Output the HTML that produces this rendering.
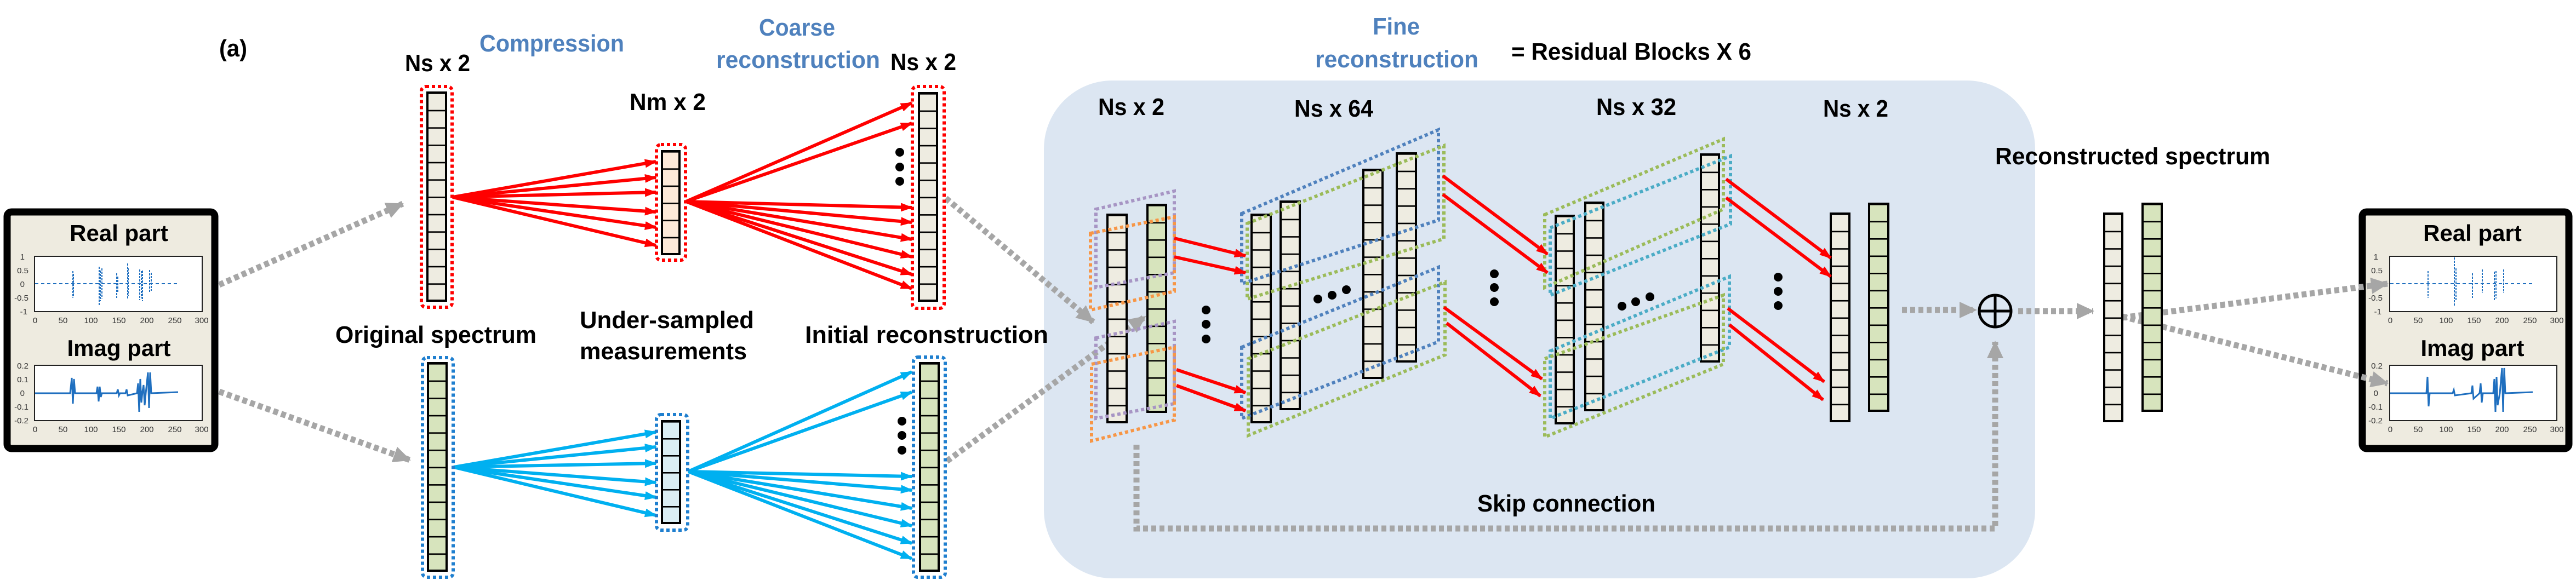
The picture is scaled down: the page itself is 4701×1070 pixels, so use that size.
<!DOCTYPE html>
<html><head><meta charset="utf-8"><style>
html,body{margin:0;padding:0;background:#fff;}
svg{display:block}
.t{font-family:"Liberation Sans Narrow","Liberation Sans",sans-serif;font-size:44px;fill:#000;font-weight:bold}
.b{fill:#4f81bd}
.ax{font-family:"Liberation Sans",sans-serif;font-size:15px;fill:#333}
.bt{font-family:"Liberation Sans",sans-serif;font-weight:bold;font-size:42px;fill:#000}
</style></head><body>
<svg width="4701" height="1070" viewBox="0 0 4701 1070" xmlns="http://www.w3.org/2000/svg">
<defs>
<pattern id="pb" patternUnits="objectBoundingBox" width="1" height="0.08333" patternContentUnits="objectBoundingBox"><rect width="1" height="0.08333" fill="#eeece1"/><rect width="1" height="0.007" fill="#000"/></pattern>
<pattern id="pg" patternUnits="objectBoundingBox" width="1" height="0.08333" patternContentUnits="objectBoundingBox"><rect width="1" height="0.08333" fill="#d7e4bd"/><rect width="1" height="0.007" fill="#000"/></pattern>
<pattern id="pp" patternUnits="objectBoundingBox" width="1" height="0.16667" patternContentUnits="objectBoundingBox"><rect width="1" height="0.16667" fill="#fde9d9"/><rect width="1" height="0.014" fill="#000"/></pattern>
<pattern id="pc" patternUnits="objectBoundingBox" width="1" height="0.16667" patternContentUnits="objectBoundingBox"><rect width="1" height="0.16667" fill="#dbeef4"/><rect width="1" height="0.014" fill="#000"/></pattern>
<marker id="mr" markerUnits="userSpaceOnUse" markerWidth="22" markerHeight="16" refX="20" refY="8" orient="auto"><path d="M0,0 L22,8 L0,16 z" fill="#ff0000"/></marker>
<marker id="mb" markerUnits="userSpaceOnUse" markerWidth="22" markerHeight="16" refX="20" refY="8" orient="auto"><path d="M0,0 L22,8 L0,16 z" fill="#00b0f0"/></marker>
<marker id="mg" markerUnits="userSpaceOnUse" markerWidth="32" markerHeight="30" refX="30" refY="15" orient="auto"><path d="M0,0 L32,15 L0,30 z" fill="#a6a6a6"/></marker>
</defs>

<rect x="1905" y="147" width="1809" height="909" rx="125" ry="125" fill="#dce6f2"/>

<g>
<rect x="13" y="387" width="379" height="432" rx="8" fill="#eeebe0" stroke="#000" stroke-width="13"/>
<text x="217" y="440" text-anchor="middle" class="bt">Real part</text>
<rect x="63" y="468" width="306" height="101" fill="#fff" stroke="#222" stroke-width="2"/>
<g class="ax" text-anchor="end"><text x="45" y="474">1</text><text x="52" y="499">0.5</text><text x="45" y="524">0</text><text x="52" y="549">-0.5</text><text x="50" y="574">-1</text></g>
<g class="ax" text-anchor="middle"><text x="64" y="590">0</text><text x="115" y="590">50</text><text x="166" y="590">100</text><text x="217" y="590">150</text><text x="268" y="590">200</text><text x="319" y="590">250</text><text x="368" y="590">300</text></g>
<path d="M64,518 H325" stroke="#1f6fbf" stroke-width="2" stroke-dasharray="6 5"/>
<path d="M133,495 V544 M134,500 V540 M181,487 V558 M183,494 V550 M186,490 V545 M213,499 V544 M215,505 V535 M233,481 V547 M234,490 V540 M255,492 V548 M258,495 V545 M260,494 V550 M273,493 V535 M276,498 V531" stroke="#1f6fbf" stroke-width="2" stroke-dasharray="4 2"/>
<text x="217" y="650" text-anchor="middle" class="bt">Imag part</text>
<rect x="63" y="667" width="306" height="101" fill="#fff" stroke="#222" stroke-width="2"/>
<g class="ax" text-anchor="end"><text x="52" y="673">0.2</text><text x="52" y="698">0.1</text><text x="45" y="723">0</text><text x="52" y="748">-0.1</text><text x="52" y="773">-0.2</text></g>
<g class="ax" text-anchor="middle"><text x="64" y="789">0</text><text x="115" y="789">50</text><text x="166" y="789">100</text><text x="217" y="789">150</text><text x="268" y="789">200</text><text x="319" y="789">250</text><text x="368" y="789">300</text></g>
<path d="M64,718 L128,718 L131,690 L133,737 L135,692 L137,718 L176,718 L178,706 L180,733 L182,706 L184,725 L186,718 L213,718 L215,711 L217,722 L219,718 L229,718 L231,711 L233,722 L250,718 L252,700 L254,752 L256,692 L258,735 L260,715 L262,703 L264,740 L266,718 L270,680 L272,745 L274,680 L276,718 L325,716" fill="none" stroke="#1f6fbf" stroke-width="3"/>
</g>

<g>
<rect x="4311" y="387" width="377" height="432" rx="8" fill="#eeebe0" stroke="#000" stroke-width="13"/>
<text x="4512" y="440" text-anchor="middle" class="bt">Real part</text>
<rect x="4361" y="468" width="305" height="101" fill="#fff" stroke="#222" stroke-width="2"/>
<g class="ax" text-anchor="end"><text x="4340" y="474">1</text><text x="4348" y="499">0.5</text><text x="4340" y="524">0</text><text x="4348" y="549">-0.5</text><text x="4346" y="574">-1</text></g>
<g class="ax" text-anchor="middle"><text x="4362" y="590">0</text><text x="4413" y="590">50</text><text x="4464" y="590">100</text><text x="4515" y="590">150</text><text x="4566" y="590">200</text><text x="4617" y="590">250</text><text x="4666" y="590">300</text></g>
<path d="M4362,518 H4622" stroke="#1f6fbf" stroke-width="2" stroke-dasharray="6 5"/>
<path d="M4431,495 V544 M4479,470 V558 M4482,490 V550 M4512,499 V544 M4530,492 V535 M4552,496 V548 M4555,495 V545 M4569,492 V535" stroke="#1f6fbf" stroke-width="2" stroke-dasharray="4 2"/>
<text x="4512" y="650" text-anchor="middle" class="bt">Imag part</text>
<rect x="4361" y="667" width="305" height="101" fill="#fff" stroke="#222" stroke-width="2"/>
<g class="ax" text-anchor="end"><text x="4348" y="673">0.2</text><text x="4348" y="698">0.1</text><text x="4340" y="723">0</text><text x="4348" y="748">-0.1</text><text x="4348" y="773">-0.2</text></g>
<g class="ax" text-anchor="middle"><text x="4362" y="789">0</text><text x="4413" y="789">50</text><text x="4464" y="789">100</text><text x="4515" y="789">150</text><text x="4566" y="789">200</text><text x="4617" y="789">250</text><text x="4666" y="789">300</text></g>
<path d="M4362,718 L4428,718 L4430,688 L4432,742 L4434,718 L4476,718 L4478,712 L4480,722 L4510,718 L4512,704 L4514,728 L4525,718 L4527,700 L4529,735 L4531,718 L4550,718 L4552,692 L4554,752 L4556,688 L4558,740 L4562,718 L4566,672 L4568,752 L4570,672 L4572,718 L4622,716" fill="none" stroke="#1f6fbf" stroke-width="3"/>
</g>

<g fill="none" stroke="#a6a6a6" stroke-width="11" stroke-dasharray="9 6">
<path d="M400,520 L735,372" marker-end="url(#mg)"/>
<path d="M400,715 L748,840" marker-end="url(#mg)"/>
<path d="M1726,362 L1995,588" marker-end="url(#mg)"/>
<path d="M1728,842 L2090,578" marker-end="url(#mg)"/>
<path d="M3471,566 L3606,566" marker-end="url(#mg)"/>
<path d="M3683,568 L3820,568" marker-end="url(#mg)"/>
<path d="M3873,580 L4357,518" marker-end="url(#mg)"/>
<path d="M3873,578 L4357,700" marker-end="url(#mg)"/>
<path d="M2074,812 V965 H3641 V624" marker-end="url(#mg)"/>
</g>

<text x="400" y="103" class="t" textLength="51" lengthAdjust="spacingAndGlyphs">(a)</text>
<text x="739" y="130" class="t" textLength="119" lengthAdjust="spacingAndGlyphs">Ns x 2</text>
<text x="875" y="94" class="t b" textLength="264" lengthAdjust="spacingAndGlyphs">Compression</text>
<text x="1385" y="65" class="t b" textLength="139" lengthAdjust="spacingAndGlyphs">Coarse</text>
<text x="1307" y="124" class="t b" textLength="299" lengthAdjust="spacingAndGlyphs">reconstruction</text>
<text x="1625" y="128" class="t" textLength="120" lengthAdjust="spacingAndGlyphs">Ns x 2</text>
<text x="1149" y="201" class="t" textLength="139" lengthAdjust="spacingAndGlyphs">Nm x 2</text>
<text x="612" y="626" class="t" textLength="367" lengthAdjust="spacingAndGlyphs">Original spectrum</text>
<text x="1058" y="599" class="t" textLength="318" lengthAdjust="spacingAndGlyphs">Under-sampled</text>
<text x="1058" y="656" class="t" textLength="305" lengthAdjust="spacingAndGlyphs">measurements</text>
<text x="1469" y="626" class="t" textLength="444" lengthAdjust="spacingAndGlyphs">Initial reconstruction</text>
<text x="2505" y="63" class="t b" textLength="86" lengthAdjust="spacingAndGlyphs">Fine</text>
<text x="2400" y="123" class="t b" textLength="298" lengthAdjust="spacingAndGlyphs">reconstruction</text>
<text x="2758" y="109" class="t" textLength="438" lengthAdjust="spacingAndGlyphs">=  Residual Blocks X 6</text>
<text x="2004" y="210" class="t" textLength="121" lengthAdjust="spacingAndGlyphs">Ns x 2</text>
<text x="2362" y="213" class="t" textLength="144" lengthAdjust="spacingAndGlyphs">Ns x 64</text>
<text x="2913" y="210" class="t" textLength="146" lengthAdjust="spacingAndGlyphs">Ns x 32</text>
<text x="3327" y="213" class="t" textLength="119" lengthAdjust="spacingAndGlyphs">Ns x 2</text>
<text x="2696" y="934" class="t" textLength="325" lengthAdjust="spacingAndGlyphs">Skip connection</text>
<text x="3641" y="300" class="t" textLength="502" lengthAdjust="spacingAndGlyphs">Reconstructed spectrum</text>

<g stroke="#ff0000" stroke-width="6" fill="none" marker-end="url(#mr)">
<path d="M826,360 L1197,295"/><path d="M826,360 L1197,324"/><path d="M826,360 L1197,351"/>
<path d="M826,360 L1197,387"/><path d="M826,360 L1197,415"/><path d="M826,360 L1197,448"/>
<path d="M1252,368 L1664,188"/><path d="M1252,368 L1664,225"/><path d="M1252,368 L1664,379"/><path d="M1252,368 L1664,406"/>
<path d="M1252,368 L1664,437"/><path d="M1252,368 L1664,469"/><path d="M1252,368 L1664,501"/><path d="M1252,368 L1664,527"/>
</g>
<g stroke="#00b0f0" stroke-width="6" fill="none" marker-end="url(#mb)">
<path d="M828,853 L1197,789"/><path d="M828,853 L1197,816"/><path d="M828,853 L1197,846"/>
<path d="M828,853 L1197,881"/><path d="M828,853 L1197,908"/><path d="M828,853 L1197,941"/>
<path d="M1256,861 L1664,679"/><path d="M1256,861 L1664,716"/><path d="M1256,861 L1664,870"/><path d="M1256,861 L1664,895"/>
<path d="M1256,861 L1664,928"/><path d="M1256,861 L1664,960"/><path d="M1256,861 L1664,992"/><path d="M1256,861 L1664,1020"/>
</g>

<g stroke="#000" stroke-width="4">
<rect x="780" y="169" width="34" height="380" fill="url(#pb)"/>
<rect x="781" y="663" width="34" height="379" fill="url(#pg)"/>
<rect x="1208" y="276" width="32" height="188" fill="url(#pp)"/>
<rect x="1208" y="769" width="33" height="186" fill="url(#pc)"/>
<rect x="1677" y="170" width="33" height="379" fill="url(#pb)"/>
<rect x="1679" y="663" width="34" height="379" fill="url(#pg)"/>
</g>
<g fill="none" stroke-width="6" stroke-dasharray="6 5">
<rect x="769" y="158" width="56" height="403" rx="8" stroke="#ff0000"/>
<rect x="771" y="653" width="56" height="401" rx="8" stroke="#1f7fcf"/>
<rect x="1198" y="264" width="53" height="211" rx="8" stroke="#ff0000"/>
<rect x="1198" y="757" width="57" height="211" rx="8" stroke="#1f7fcf"/>
<rect x="1665" y="158" width="58" height="405" rx="8" stroke="#ff0000"/>
<rect x="1667" y="652" width="58" height="402" rx="8" stroke="#1f7fcf"/>
</g>
<g fill="#000">
<circle cx="1642" cy="278" r="8"/><circle cx="1642" cy="305" r="8"/><circle cx="1642" cy="331" r="8"/>
<circle cx="1646" cy="769" r="8"/><circle cx="1646" cy="795" r="8"/><circle cx="1646" cy="822" r="8"/>
</g>

<g stroke="#000" stroke-width="4">
<rect x="2021" y="392" width="35" height="379" fill="url(#pb)"/>
<rect x="2094" y="374" width="34" height="378" fill="url(#pg)"/>
<rect x="2284" y="392" width="35" height="379" fill="url(#pb)"/>
<rect x="2337" y="368" width="35" height="379" fill="url(#pb)"/>
<rect x="2488" y="310" width="35" height="380" fill="url(#pb)"/>
<rect x="2549" y="280" width="35" height="380" fill="url(#pb)"/>
<rect x="2839" y="394" width="33" height="379" fill="url(#pb)"/>
<rect x="2893" y="370" width="33" height="379" fill="url(#pb)"/>
<rect x="3104" y="282" width="33" height="378" fill="url(#pb)"/>
<rect x="3341" y="390" width="34" height="379" fill="url(#pb)"/>
<rect x="3411" y="372" width="35" height="378" fill="url(#pg)"/>
<rect x="3840" y="390" width="33" height="379" fill="url(#pb)"/>
<rect x="3910" y="372" width="35" height="378" fill="url(#pg)"/>
</g>

<g fill="none" stroke-width="6" stroke-dasharray="6 5">
<polygon points="2000,382 2143,349 2143,498 2000,525" stroke="#a795c4"/>
<polygon points="1990,426 2143,396 2143,532 1990,566" stroke="#f79646"/>
<polygon points="2000,617 2143,587 2143,737 2000,764" stroke="#a795c4"/>
<polygon points="1992,665 2143,634 2143,767 1992,805" stroke="#f79646"/>
<polygon points="2266,390 2625,237 2625,402 2266,518" stroke="#4f81bd"/>
<polygon points="2276,408 2635,266 2635,436 2276,546" stroke="#9bbb59"/>
<polygon points="2266,634 2625,488 2625,624 2266,764" stroke="#4f81bd"/>
<polygon points="2278,655 2637,515 2637,648 2278,795" stroke="#9bbb59"/>
<polygon points="2819,392 3145,254 3145,382 2819,525" stroke="#9bbb59"/>
<polygon points="2829,416 3158,285 3158,409 2829,539" stroke="#4bacc6"/>
<polygon points="2829,641 3156,505 3156,634 2829,764" stroke="#4bacc6"/>
<polygon points="2819,655 3145,539 3145,665 2819,798" stroke="#9bbb59"/>
</g>

<g stroke="#ff0000" stroke-width="6" fill="none" marker-end="url(#mr)">
<path d="M2143,435 L2273,467"/><path d="M2143,469 L2273,498"/>
<path d="M2147,675 L2273,717"/><path d="M2147,704 L2273,750"/>
<path d="M2633,321 L2824,464"/><path d="M2633,355 L2824,498"/>
<path d="M2635,561 L2814,692"/><path d="M2640,590 L2811,723"/>
<path d="M3150,327 L3341,471"/><path d="M3150,361 L3341,505"/>
<path d="M3153,563 L3329,697"/><path d="M3156,593 L3327,730"/>
</g>

<g fill="#000">
<circle cx="2201" cy="566" r="8"/><circle cx="2201" cy="592" r="8"/><circle cx="2201" cy="619" r="8"/>
<circle cx="2405" cy="546" r="8"/><circle cx="2431" cy="539" r="8"/><circle cx="2457" cy="529" r="8"/>
<circle cx="2727" cy="500" r="8"/><circle cx="2727" cy="525" r="8"/><circle cx="2727" cy="551" r="8"/>
<circle cx="2960" cy="559" r="8"/><circle cx="2985" cy="551" r="8"/><circle cx="3011" cy="542" r="8"/>
<circle cx="3245" cy="506" r="8"/><circle cx="3245" cy="532" r="8"/><circle cx="3245" cy="558" r="8"/>
</g>

<circle cx="3641" cy="568" r="29" fill="none" stroke="#000" stroke-width="5"/>
<path d="M3612,568 H3670 M3641,539 V597" stroke="#000" stroke-width="5"/>
</svg>
</body></html>
